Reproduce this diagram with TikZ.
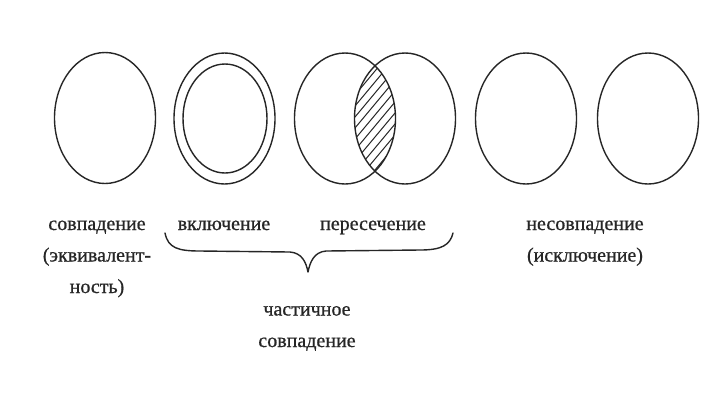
\documentclass[tikz,border=0pt]{standalone}
\usepackage{fontspec}
\newfontfamily\rusfont[FakeBold=0.8]{Liberation Serif}
\usetikzlibrary{shapes.geometric}
\definecolor{ink}{HTML}{262626}
\tikzset{
  oval/.style={ellipse, draw=ink, line width=1.4bp, inner sep=0pt, minimum width=101bp, minimum height=131bp},
  inner oval/.style={ellipse, draw=ink, line width=1.4bp, inner sep=0pt, minimum width=84bp, minimum height=109bp},
  lbl/.style={font=\rusfont\fontsize{20bp}{31.5bp}\selectfont, text=ink, align=center, inner sep=0pt, anchor=base},
  bracepath/.style={draw=ink, line width=1.4bp, line cap=round, line join=round},
  hatch/.style={draw=ink, line width=1bp}
}
\begin{document}
\begin{tikzpicture}[x=1bp,y=-1bp]
\useasboundingbox[fill=white] (0,0) rectangle (718,419);
% ovals
\node[oval] (c1) at (105,118) {};
\node[oval] (c2) at (224.5,118.5) {};
\node[inner oval] (c2i) at (225,118.5) {};
\node[oval] (c3a) at (345,118.5) {};
\node[oval] (c3b) at (405,118.5) {};
\node[oval] (c4) at (526,118.5) {};
\node[oval] (c5) at (648,118.5) {};
% hatching of the intersection
\begin{scope}
  \clip (345,118.5) ellipse [x radius=50.5bp, y radius=65.5bp];
  \clip (405,118.5) ellipse [x radius=50.5bp, y radius=65.5bp];
  \foreach \k in {-60,-49,...,150} \draw[hatch] (320,120+\k) -- ++(100,-120);
\end{scope}
% labels (anchor = baseline of the last line)
\node[lbl] (t1) at (97,293) {совпадение\\(эквивалент-\\ность)};
\node[lbl] (t2) at (224,230) {включение};
\node[lbl] (t3) at (373,230) {пересечение};
\node[lbl] (t4) at (585,261.5) {несовпадение\\(исключение)};
\node[lbl] (t5) at (307,347) {частичное\\совпадение};
% brace
\coordinate (bl) at (165,233);
\coordinate (br) at (453,233);
\coordinate (bt) at (308,272);
\draw[bracepath] (bl) .. controls (168,248) and (178,251) .. (200,251)
  -- (290,252) .. controls (302,253) and (306,262) .. (bt)
  .. controls (310,262) and (314,252) .. (326,251)
  -- (420,250) .. controls (442,250) and (450,245) .. (br);
\end{tikzpicture}
\end{document}
